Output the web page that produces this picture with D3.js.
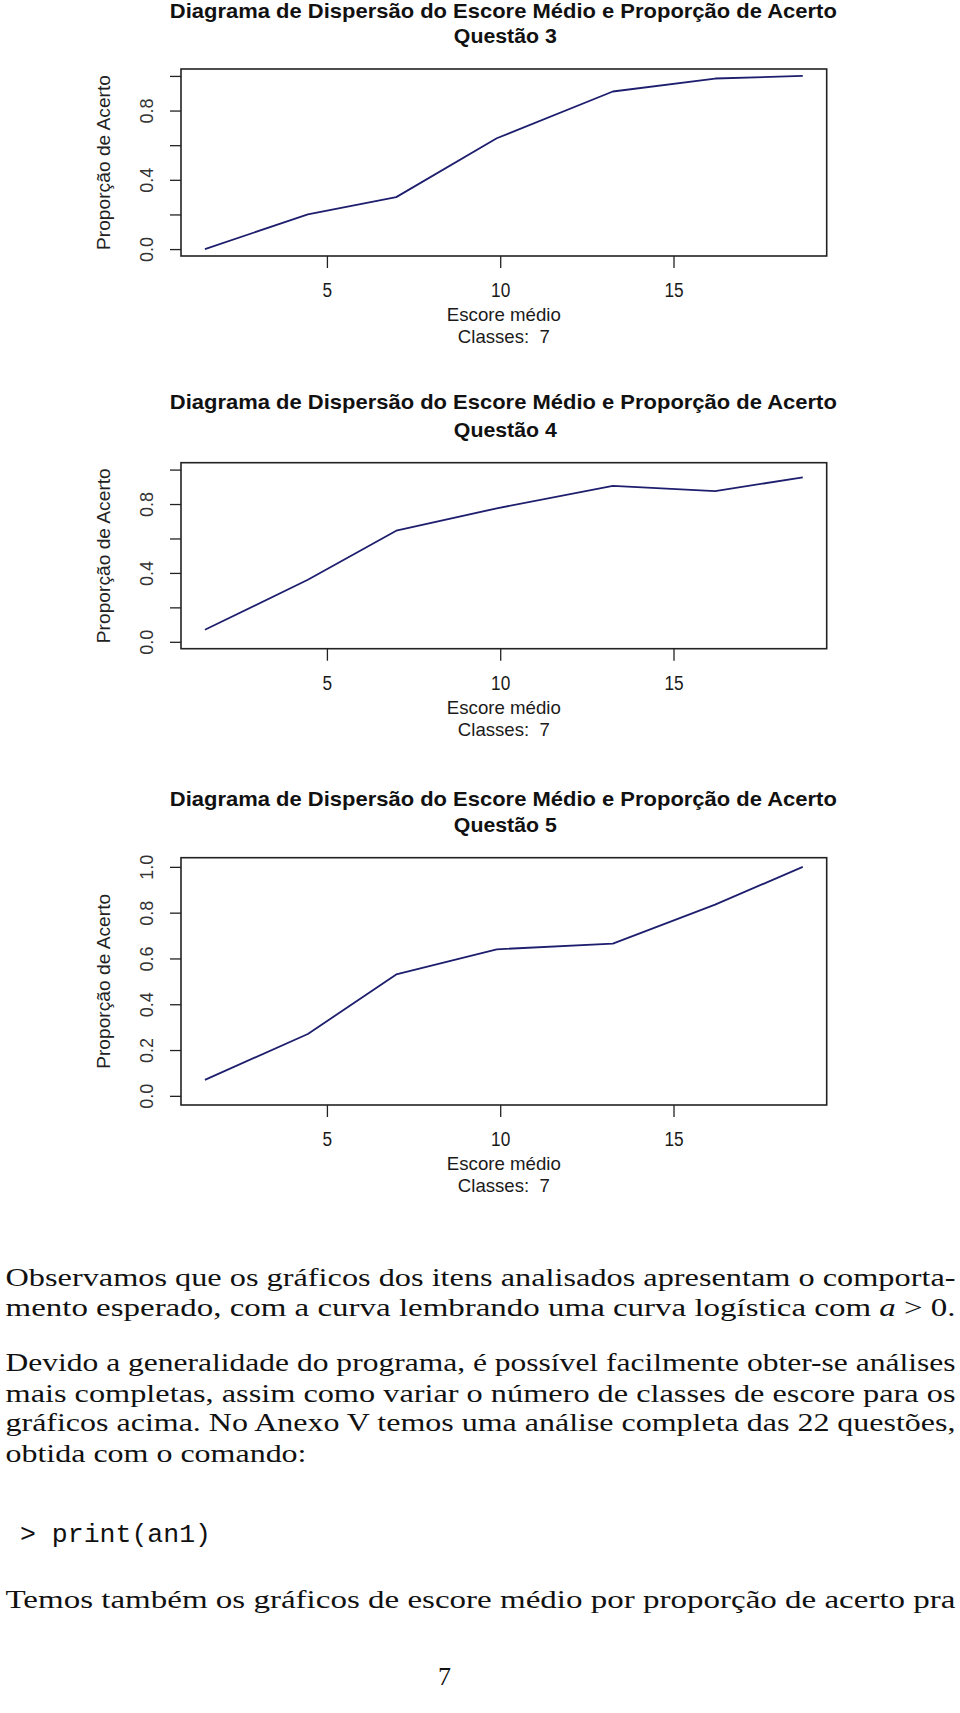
<!DOCTYPE html>
<html>
<head>
<meta charset="utf-8">
<script src="https://cdn.jsdelivr.net/npm/d3@7"></script>
<style>
  html, body { margin: 0; padding: 0; background: #fff; }
  svg { display: block; }
</style>
</head>
<body>
<svg id="page" width="960" height="1713"></svg>
<script>
// ---------------- DATA ----------------
const xScore = [1.48, 4.45, 7.0, 9.9, 13.25, 16.2, 18.73];   // Escore médio of each class
const propQ3 = [0.0, 0.20, 0.30, 0.64, 0.91, 0.985, 1.0];
const propQ4 = [0.07, 0.36, 0.645, 0.775, 0.905, 0.875, 0.955];
const propQ5 = [0.07, 0.27, 0.53, 0.64, 0.665, 0.835, 1.0];
const questions = ["Questão 3", "Questão 4", "Questão 5"];
const xTicks = [5, 10, 15];
const yTicks = [0, 0.2, 0.4, 0.6, 0.8, 1.0];
const yLabeledShort = [0, 0.4, 0.8];
const yLabeledFull = [0, 0.2, 0.4, 0.6, 0.8, 1.0];
const mainTitle = "Diagrama de Dispersão do Escore Médio e Proporção de Acerto";
const xTitle = "Escore médio";
const subTitle = "Classes:  7";
const yTitle = "Proporção de Acerto";

const bodyLines = [
  "Observamos que os gráficos dos itens analisados apresentam o comporta-",
  "mento esperado, com a curva lembrando uma curva logística com ",
  "Devido a generalidade do programa, é possível facilmente obter-se análises",
  "mais completas, assim como variar o número de classes de escore para os",
  "gráficos acima. No Anexo V temos uma análise completa das 22 questões,",
  "obtida com o comando:"
];
const codeLine = "> print(an1)";
const lastLine = "Temos também os gráficos de escore médio por proporção de acerto pra";
const pageNumber = "7";

// ---------------- LAYOUT ----------------
const svg = d3.select("#page");
svg.append("rect").attr("width", 960).attr("height", 1713).attr("fill", "#fff");

const boxLeft = 181, boxRight = 826.7;
const panels = [
  { values: propQ3, t1: 18,  t2: 43,  top: 69,    bottom: 256,   labels: yLabeledShort },
  { values: propQ4, t1: 409, t2: 437, top: 462.7, bottom: 648.7, labels: yLabeledShort },
  { values: propQ5, t1: 806, t2: 832, top: 857.7, bottom: 1105,  labels: yLabeledFull }
];

const sans = "'Liberation Sans', Arial, Helvetica, sans-serif";
const lineColor = "#1e1e6e";
const inkColor = "#1a1a1a";

function rPad(ext) {
  const r = ext[1] - ext[0];
  return [ext[0] - 0.04 * r, ext[1] + 0.04 * r];
}

panels.forEach((p, i) => {
  const g = svg.append("g");
  const cx = (boxLeft + boxRight) / 2;

  const x = d3.scaleLinear().domain(rPad(d3.extent(xScore))).range([boxLeft, boxRight]);
  const y = d3.scaleLinear().domain(rPad([0, 1])).range([p.bottom, p.top]);

  // titles
  g.append("text").attr("x", cx - 0.5).attr("y", p.t1)
    .attr("text-anchor", "middle").attr("font-family", sans).attr("font-weight", "bold")
    .attr("font-size", 21).attr("fill", "#111")
    .attr("textLength", 667).attr("lengthAdjust", "spacingAndGlyphs")
    .text(mainTitle);
  g.append("text").attr("x", cx + 1.5).attr("y", p.t2)
    .attr("text-anchor", "middle").attr("font-family", sans).attr("font-weight", "bold")
    .attr("font-size", 20).attr("fill", "#111")
    .attr("textLength", 103).attr("lengthAdjust", "spacingAndGlyphs")
    .text(questions[i]);

  // box
  g.append("rect").attr("x", boxLeft).attr("y", p.top)
    .attr("width", boxRight - boxLeft).attr("height", p.bottom - p.top)
    .attr("fill", "none").attr("stroke", "#222").attr("stroke-width", 1.6);

  // x axis (ticks below box)
  const xAxis = d3.axisBottom(x).tickValues(xTicks).tickSize(12).tickPadding(16)
    .tickFormat(d3.format("d"));
  const gx = g.append("g").attr("transform", `translate(0,${p.bottom})`).call(xAxis);
  gx.select(".domain").remove();
  gx.selectAll(".tick line").attr("stroke", "#222").attr("stroke-width", 1.3);
  gx.selectAll(".tick text").attr("font-family", sans).attr("font-size", 20)
    .attr("fill", inkColor).attr("dy", null).attr("y", 41)
    .attr("transform", null)
    .each(function(d) {
      d3.select(this).attr("textLength", String(d).length * 9.6).attr("lengthAdjust", "spacingAndGlyphs");
    });

  // y axis (ticks left of box)
  const yAxis = d3.axisLeft(y).tickValues(yTicks).tickSize(11)
    .tickFormat(d => p.labels.some(v => Math.abs(v - d) < 1e-9) ? d3.format(".1f")(d) : "");
  const gy = g.append("g").attr("transform", `translate(${boxLeft},0)`).call(yAxis);
  gy.select(".domain").remove();
  gy.selectAll(".tick line").attr("stroke", "#222").attr("stroke-width", 1.3);
  gy.selectAll(".tick text").attr("font-family", sans).attr("font-size", 18)
    .attr("fill", "#333").attr("text-anchor", "middle")
    .attr("x", null).attr("dy", null)
    .attr("transform", "translate(-28,0) rotate(-90)")
    .attr("y", 0);

  // axis titles
  g.append("text").attr("x", cx).attr("y", p.bottom + 65)
    .attr("text-anchor", "middle").attr("font-family", sans).attr("font-size", 19)
    .attr("fill", inkColor).attr("textLength", 114).attr("lengthAdjust", "spacingAndGlyphs")
    .text(xTitle);
  g.append("text").attr("x", cx).attr("y", p.bottom + 87)
    .attr("text-anchor", "middle").attr("font-family", sans).attr("font-size", 19)
    .attr("fill", inkColor).attr("textLength", 92).attr("lengthAdjust", "spacingAndGlyphs")
    .attr("xml:space", "preserve")
    .text(subTitle);
  g.append("text")
    .attr("transform", `translate(109.5,${(p.top + p.bottom) / 2}) rotate(-90)`)
    .attr("text-anchor", "middle").attr("font-family", sans).attr("font-size", 19)
    .attr("fill", "#222").attr("textLength", 175).attr("lengthAdjust", "spacingAndGlyphs")
    .text(yTitle);

  // data line
  const line = d3.line().x((d, k) => x(xScore[k])).y(d => y(d));
  g.append("path").datum(p.values).attr("d", line)
    .attr("fill", "none").attr("stroke", lineColor).attr("stroke-width", 1.8)
    .attr("stroke-linejoin", "round");
});

// ---------------- BODY TEXT ----------------
const serif = "'Liberation Serif', 'Times New Roman', serif";
const mono = "'Liberation Mono', 'DejaVu Sans Mono', monospace";
const bodyBase = [1285.5, 1316, 1370.5, 1401.5, 1430.5, 1461.5];
const bodyWidth = [950, 950, 950, 950, 950, 301];
const fs = 25;

bodyLines.forEach((t, i) => {
  const el = svg.append("text").attr("x", 5.5).attr("y", bodyBase[i])
    .attr("font-family", serif).attr("font-size", fs).attr("fill", "#111")
    .attr("textLength", bodyWidth[i]).attr("lengthAdjust", "spacingAndGlyphs")
    .attr("xml:space", "preserve");
  el.append("tspan").text(t);
  if (i === 1) {
    el.append("tspan").attr("font-style", "italic").text("a");
    el.append("tspan").text(" > 0.");
  }
});

svg.append("text").attr("x", 20).attr("y", 1542)
  .attr("font-family", mono).attr("font-size", 26).attr("fill", "#111")
  .attr("textLength", 191).attr("lengthAdjust", "spacingAndGlyphs")
  .attr("xml:space", "preserve")
  .text(codeLine);

svg.append("text").attr("x", 5.5).attr("y", 1607.5)
  .attr("font-family", serif).attr("font-size", fs).attr("fill", "#111")
  .attr("textLength", 950).attr("lengthAdjust", "spacingAndGlyphs")
  .text(lastLine);

svg.append("text").attr("x", 444.5).attr("y", 1685)
  .attr("text-anchor", "middle")
  .attr("font-family", serif).attr("font-size", 26).attr("fill", "#111")
  .text(pageNumber);
</script>
</body>
</html>
